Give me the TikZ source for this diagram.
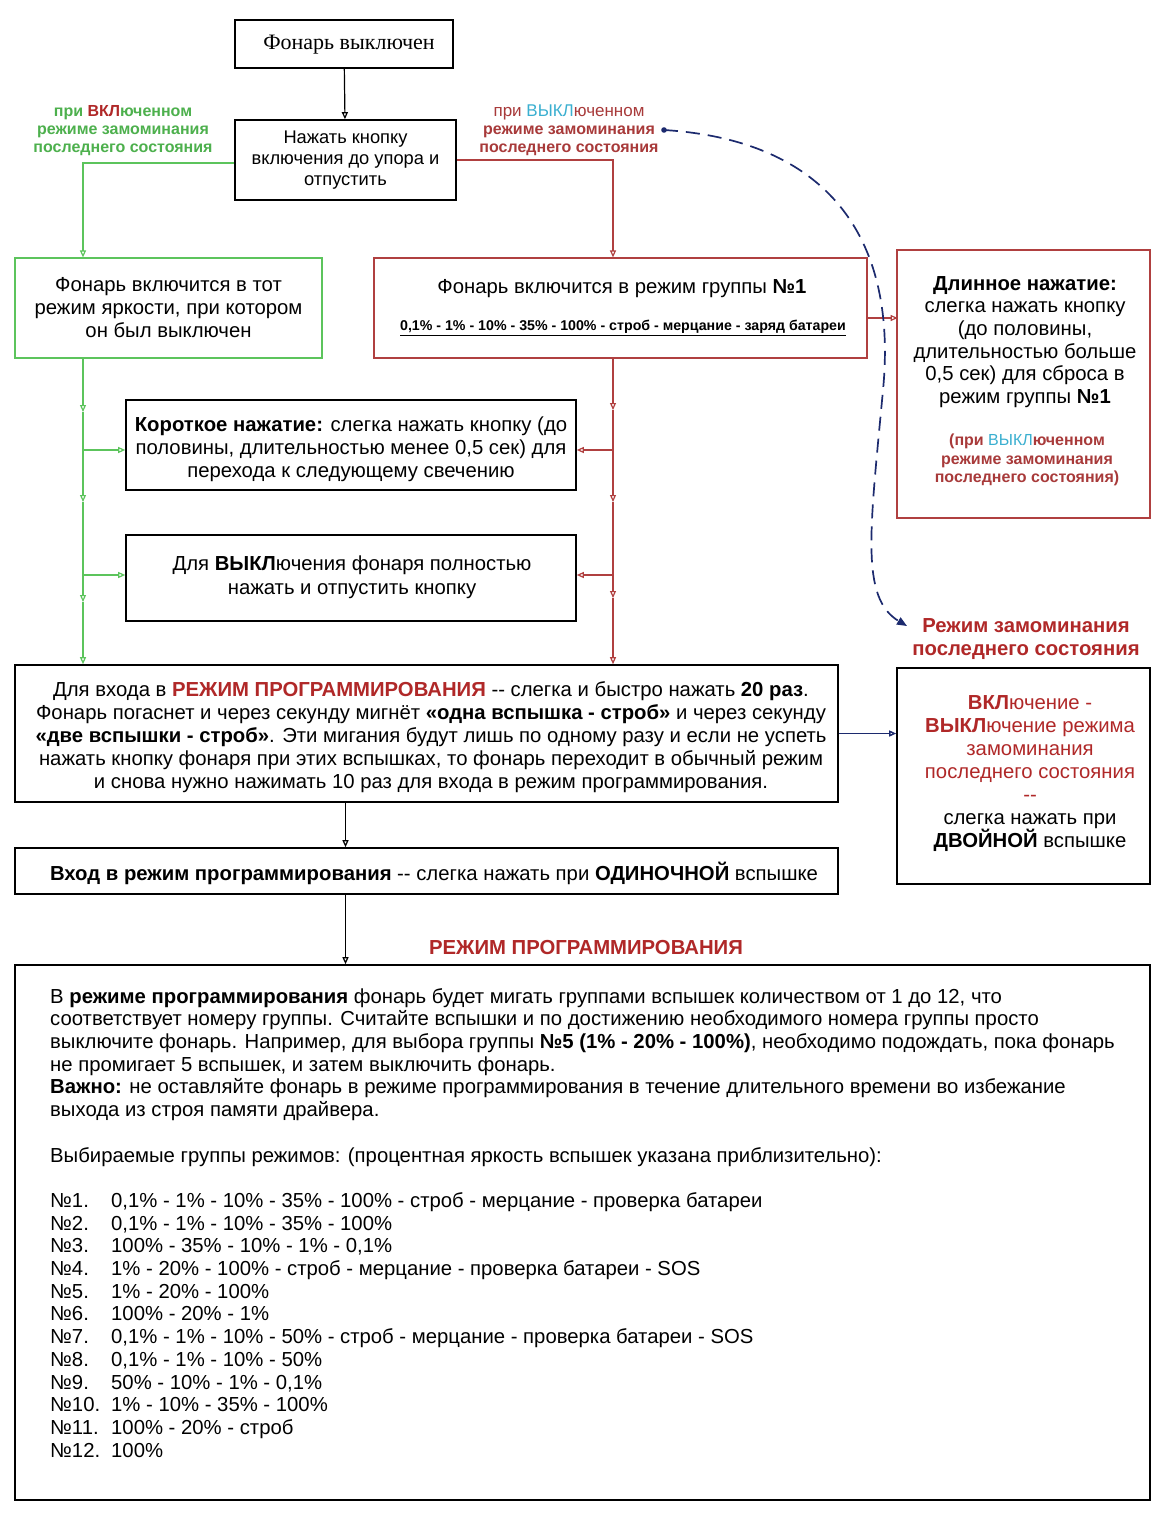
\documentclass[tikz,border=0pt]{standalone}
\usepackage{fontspec}
\setmainfont{Liberation Sans}
\newfontfamily\serifx{Liberation Serif}
\usetikzlibrary{arrows.meta}
\definecolor{grn}{HTML}{5CC45C}
\definecolor{grntxt}{HTML}{4DB04D}
\definecolor{redl}{HTML}{B04040}
\definecolor{redt}{HTML}{B02828}
\definecolor{redlab}{HTML}{A83A3A}
\definecolor{cyn}{HTML}{3AAFD0}
\definecolor{navy}{HTML}{1C2A6E}
\newcommand\fsz[2]{\fontsize{#1}{#2}\selectfont}
\begin{document}
\begin{tikzpicture}[x=1pt,y=-1pt,
  box/.style={draw, line width=1.6pt, inner sep=0pt, align=center},
  otip/.style={-{Triangle[open,length=7pt,width=6pt]}},
  bline/.style={line width=1.2pt, black},
  gline/.style={line width=1.2pt, grn},
  rline/.style={line width=1.2pt, redl},
  txt/.style={inner sep=0pt, align=center},
]
\useasboundingbox[fill=white] (0,0) rectangle (1164,1515);

% boxes
\node[box, minimum width=218pt, minimum height=48pt] (off) at (344,44) {};
\node[txt, font=\serifx\fsz{22}{26}] (offt) at (349,45) {Фонарь выключен};
\node[box, minimum width=221pt, minimum height=80pt, font=\fsz{18.3}{21}] (press) at (345.5,160) {Нажать кнопку\\включения до упора и\\отпустить};
\node[box, draw=grn, line width=1.2pt, minimum width=307pt, minimum height=100pt, font=\fsz{20.3}{23}] (green) at (168.5,308) {Фонарь включится в тот\\режим яркости, при котором\\он был выключен};
\node[box, draw=redl, line width=1.2pt, minimum width=493pt, minimum height=100pt] (redbox) at (620.5,308) {};
\node[txt, font=\fsz{20.3}{23}] (redt1) at (622,289) {Фонарь включится в режим группы \textbf{№1}};
\node[txt, font=\fsz{14.2}{16}\bfseries] (redt2) at (623,328) {\underline{0,1\% - 1\% - 10\% - 35\% - 100\% - строб - мерцание - заряд батареи}};
\node[box, draw=redl, line width=1.2pt, minimum width=253pt, minimum height=268pt] (long) at (1023.5,384) {};
\node[txt, font=\fsz{20.3}{22.7}] (longt) at (1025,342) {\textbf{Длинное нажатие:}\\слегка нажать кнопку\\(до половины,\\длительностью больше\\0,5 сек) для сброса в\\режим группы \textbf{№1}};
\node[txt, font=\fsz{16}{18.5}\bfseries, text=redlab] (longl) at (1027,460) {(при {\mdseries\color{cyn}ВЫКЛ}юченном\\режиме замоминания\\последнего состояния)};

\node[box, minimum width=450pt, minimum height=90pt] (short) at (351,445) {};
\node[txt, font=\fsz{20.3}{23}] (shortt) at (351,449) {\textbf{Короткое нажатие:} слегка нажать кнопку (до\\половины, длительностью менее 0,5 сек) для\\перехода к следующему свечению};
\node[box, minimum width=450pt, minimum height=86pt] (offbox) at (351,578) {};
\node[txt, font=\fsz{20.3}{24}] (offboxt) at (352,577) {Для \textbf{ВЫКЛ}ючения фонаря полностью\\нажать и отпустить кнопку};

\node[box, minimum width=823pt, minimum height=137pt] (prog) at (426.5,733.5) {};
\node[txt, font=\fsz{20.3}{23}] (progt) at (431,737) {Для входа в {\color{redt}\bfseries РЕЖИМ ПРОГРАММИРОВАНИЯ} -{}- слегка и быстро нажать \textbf{20 раз}.\\
Фонарь погаснет и через секунду мигнёт \textbf{«одна вспышка - строб»} и через секунду\\
\textbf{«две вспышки - строб»}. Эти мигания будут лишь по одному разу и если не успеть\\
нажать кнопку фонаря при этих вспышках, то фонарь переходит в обычный режим\\
и снова нужно нажимать 10 раз для входа в режим программирования.};

\node[box, minimum width=823pt, minimum height=46pt] (entry) at (426.5,871) {};
\node[txt, font=\fsz{20.3}{23}] (entryt) at (434,873) {\textbf{Вход в режим программирования} -{}- слегка нажать при \textbf{ОДИНОЧНОЙ} вспышке};

\node[box, minimum width=253pt, minimum height=216pt] (mem) at (1023.5,776) {};
\node[txt, font=\fsz{20.3}{23}] (memt) at (1030,774) {{\color{redt}\textbf{ВКЛ}ючение -}\\{\color{redt}\textbf{ВЫКЛ}ючение режима}\\{\color{redt}замоминания}\\{\color{redt}последнего состояния}\\{\color{redt}-{}-}\\слегка нажать при\\\textbf{ДВОЙНОЙ} вспышке};
\node[txt, font=\fsz{20.3}{22.5}\bfseries, text=redt] (memlab) at (1026,639) {Режим замоминания\\последнего состояния};

\node[txt, font=\fsz{20.3}{22}\bfseries, text=redt] (proghead) at (586,948) {РЕЖИМ ПРОГРАММИРОВАНИЯ};

\node[box, minimum width=1135pt, minimum height=535pt] (big) at (582.5,1232.5) {};
\node[txt, anchor=north west, align=left, font=\fsz{20.3}{22.7}] (bigt) at (50,988) {В \textbf{режиме программирования} фонарь будет мигать группами вспышек количеством от 1 до 12, что\\
соответствует номеру группы. Считайте вспышки и по достижению необходимого номера группы просто\\
выключите фонарь. Например, для выбора группы \textbf{№5 (1\% - 20\% - 100\%)}, необходимо подождать, пока фонарь\\
не промигает 5 вспышек, и затем выключить фонарь.\\
\textbf{Важно:} не оставляйте фонарь в режиме программирования в течение длительного времени во избежание\\
выхода из строя памяти драйвера.\\[22.7pt]
Выбираемые группы режимов: (процентная яркость вспышек указана приблизительно):\\[22.7pt]
\makebox[61pt][l]{№1.}0,1\% - 1\% - 10\% - 35\% - 100\% - строб - мерцание - проверка батареи\\
\makebox[61pt][l]{№2.}0,1\% - 1\% - 10\% - 35\% - 100\%\\
\makebox[61pt][l]{№3.}100\% - 35\% - 10\% - 1\% - 0,1\%\\
\makebox[61pt][l]{№4.}1\% - 20\% - 100\% - строб - мерцание - проверка батареи - SOS\\
\makebox[61pt][l]{№5.}1\% - 20\% - 100\%\\
\makebox[61pt][l]{№6.}100\% - 20\% - 1\%\\
\makebox[61pt][l]{№7.}0,1\% - 1\% - 10\% - 50\% - строб - мерцание - проверка батареи - SOS\\
\makebox[61pt][l]{№8.}0,1\% - 1\% - 10\% - 50\%\\
\makebox[61pt][l]{№9.}50\% - 10\% - 1\% - 0,1\%\\
\makebox[61pt][l]{№10.}1\% - 10\% - 35\% - 100\%\\
\makebox[61pt][l]{№11.}100\% - 20\% - строб\\
\makebox[61pt][l]{№12.}100\%};

% labels
\node[txt, font=\fsz{16}{18}\bfseries, text=grntxt] (glab) at (123,131) {при {\color{redt}ВКЛ}юченном\\режиме замоминания\\последнего состояния};
\node[txt, font=\fsz{16}{18}\bfseries, text=redlab] (rlab) at (569,130) {{\mdseries\fsz{17}{18}при {\color{cyn}ВЫКЛ}юченном}\\режиме замоминания\\последнего состояния};

% coordinates
\coordinate (gx) at (83,0);
\coordinate (rx) at (613,0);
\coordinate (dotc) at (664,130);
\coordinate (g1) at (83,412);
\coordinate (gB1) at (83,450);
\coordinate (g2) at (83,502);
\coordinate (gB2) at (83,575);
\coordinate (g3) at (83,602);
\coordinate (r1) at (613,410);
\coordinate (rB1) at (613,450);
\coordinate (r2) at (613,502);
\coordinate (rB2) at (613,575);
\coordinate (r3) at (613,598);

% connectors
\draw[bline, otip] (off) -- (press);
\draw[gline, otip] ([yshift=-3pt]press.west) -| (green.north -| gx);
\draw[rline, otip] (press.east) -| (redbox.north -| rx);
\draw[rline, otip] ([yshift=-10pt]redbox.east) -- ++(30,0);

\draw[gline, otip] (green.south -| gx) -- (g1);
\draw[gline, otip] (g1) -- (g2);
\draw[gline, otip] (g2) -- (g3);
\draw[gline, otip] (g3) -- (prog.north -| gx);
\draw[gline, otip] (gB1) -- (gB1 -| short.west);
\draw[gline, otip] (gB2) -- (gB2 -| offbox.west);

\draw[rline, otip] (redbox.south -| rx) -- (r1);
\draw[rline, otip] (r1) -- (r2);
\draw[rline, otip] (r2) -- (r3);
\draw[rline, otip] (r3) -- (prog.north -| rx);
\draw[rline, otip] (rB1) -- (rB1 -| short.east);
\draw[rline, otip] (rB2) -- (rB2 -| offbox.east);

\draw[bline, otip] (prog.south -| press) -- (entry.north -| press);
\draw[bline, otip] (entry.south -| press) -- (big.north -| press);
\draw[line width=1.4pt, navy, otip] (prog.east) -- (prog.east -| mem.west);

\fill[navy] (dotc) circle (2.8pt);
\draw[navy, line width=1.7pt, dash pattern=on 14pt off 8pt, -{Triangle[length=10pt,width=8pt]}]
  (dotc) .. controls (825,140) and (898,235) .. (883,390)
  .. controls (870,530) and (860,598) .. (907,626);
\end{tikzpicture}
\end{document}
